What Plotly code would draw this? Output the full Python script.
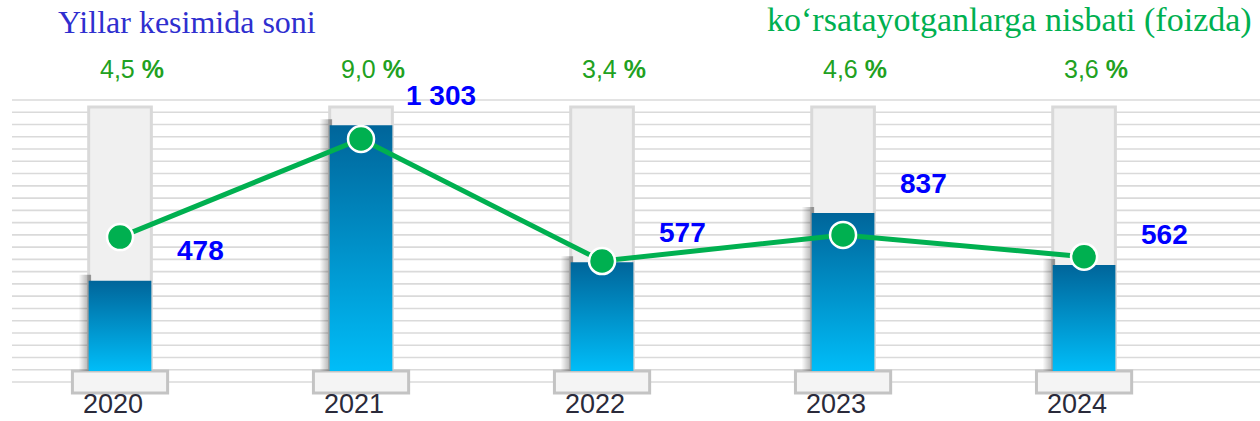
import plotly.graph_objects as go

# --- data -------------------------------------------------------------
years = ["2020", "2021", "2022", "2023", "2024"]
counts = [478, 1303, 577, 837, 562]          # yillar kesimida soni
shares = [4.5, 9.0, 3.4, 4.6, 3.6]           # nisbati, foizda

title_left = "Yillar kesimida soni"
title_right = "ko‘rsatayotganlarga nisbati (foizda)"

# --- geometry / styling -----------------------------------------------
W, H = 1260, 421
X_RANGE = [-0.498, 4.730]
Y_RANGE = [-265.0, 1966.3]          # counts axis (0 sits on the pedestals)
Y2_RANGE = [-3.94, 15.38]           # percentage axis
BAR_W = 0.26
PED_W = 0.395
SHADOW_W = 0.042

BLUE_TOP = "#00659a"
BLUE_BOTTOM = "#00bdf8"
GREEN = "#00b050"
PCT_GREEN = "#21a121"


def py(px):
    """Counts-axis value for a vertical pixel position (from the top)."""
    span = Y_RANGE[1] - Y_RANGE[0]
    return Y_RANGE[1] - px * span / H


fig = go.Figure()
shapes = []

# horizontal rules
n_rules = 24
for k in range(n_rules):
    yy = py(100 + k * (382 - 100) / (n_rules - 1))
    shapes.append(dict(type="line", xref="paper", yref="y", x0=12 / W, x1=1,
                       y0=yy, y1=yy, line=dict(color="#dadada", width=1.6),
                       layer="below"))

# empty tracks behind bars and pedestals under them
for i, _ in enumerate(years):
    shapes.append(dict(type="rect", xref="x", yref="y",
                       x0=i - BAR_W / 2, x1=i + BAR_W / 2, y0=0, y1=py(107),
                       fillcolor="#f0f0f0", line=dict(color="#d9d9d9", width=3),
                       layer="below"))
    shapes.append(dict(type="rect", xref="x", yref="y",
                       x0=i - PED_W / 2, x1=i + PED_W / 2, y0=py(393), y1=0,
                       fillcolor="#f4f4f4", line=dict(color="#c3c3c3", width=3),
                       layer="below"))

# soft shadow on the left of each bar
for i, v in enumerate(counts):
    xl = i - BAR_W / 2
    top = v + (py(0) - py(6))
    fig.add_trace(go.Scatter(
        x=[xl - SHADOW_W, xl + 0.01, xl + 0.01, xl - SHADOW_W, xl - SHADOW_W],
        y=[0, 0, top, top, 0], mode="lines", line=dict(width=0),
        fill="toself",
        fillgradient=dict(type="horizontal",
                          colorscale=[[0, "rgba(0,0,0,0)"],
                                      [1, "rgba(0,0,0,0.38)"]]),
        hoverinfo="skip", showlegend=False))

# gradient bars
for i, v in enumerate(counts):
    x0, x1 = i - BAR_W / 2, i + BAR_W / 2
    fig.add_trace(go.Scatter(
        x=[x0, x1, x1, x0, x0], y=[0, 0, v, v, 0],
        mode="lines", line=dict(width=0), fill="toself",
        fillgradient=dict(type="vertical",
                          colorscale=[[0, BLUE_BOTTOM], [1, BLUE_TOP]]),
        name=years[i], hoverinfo="skip", showlegend=False))

# percentage line
fig.add_trace(go.Scatter(
    x=list(range(len(years))), y=shares, yaxis="y2", mode="lines+markers",
    line=dict(color=GREEN, width=5),
    marker=dict(size=26, color=GREEN, line=dict(color="white", width=2.5)),
    cliponaxis=False, showlegend=False))

annotations = []
for i, (yr, v, p) in enumerate(zip(years, counts, shares)):
    annotations.append(dict(
        x=i, y=v, xref="x", yref="y", xshift=80, yshift=30,
        text=f"<b>{v:,}</b>".replace(",", " "), showarrow=False,
        font=dict(family="Arial, Liberation Sans", size=28, color="#0000ff")))
    annotations.append(dict(
        x=i, y=py(69), xref="x", yref="y", xshift=12,
        text=f"{p:.1f}".replace(".", ",") + " <b>%</b>", showarrow=False,
        font=dict(family="Arial, Liberation Sans", size=25, color=PCT_GREEN)))
    annotations.append(dict(
        x=i, y=py(419.5), xref="x", yref="y", xshift=-7,
        yanchor="bottom", borderpad=0,
        text=yr, showarrow=False,
        font=dict(family="Arial, Liberation Sans", size=27, color="#2a2a3a")))

annotations.append(dict(
    x=56 / W, y=(H - 22) / H, xref="paper", yref="paper",
    xanchor="left", yanchor="middle", text=title_left, showarrow=False,
    font=dict(family="Times New Roman, Liberation Serif", size=32,
              color="#2f2fcf")))
annotations.append(dict(
    x=1254 / W, y=(H - 20) / H, xref="paper", yref="paper",
    xanchor="right", yanchor="middle", text=title_right, showarrow=False,
    font=dict(family="Times New Roman, Liberation Serif", size=34,
              color=GREEN)))

fig.update_layout(
    width=W, height=H, margin=dict(l=0, r=0, t=0, b=0),
    paper_bgcolor="white", plot_bgcolor="white",
    shapes=shapes, annotations=annotations, showlegend=False,
    xaxis=dict(range=X_RANGE, visible=False, fixedrange=True),
    yaxis=dict(range=Y_RANGE, visible=False, fixedrange=True),
    yaxis2=dict(range=Y2_RANGE, overlaying="y", visible=False,
                fixedrange=True),
)

fig.write_html("out.html")
